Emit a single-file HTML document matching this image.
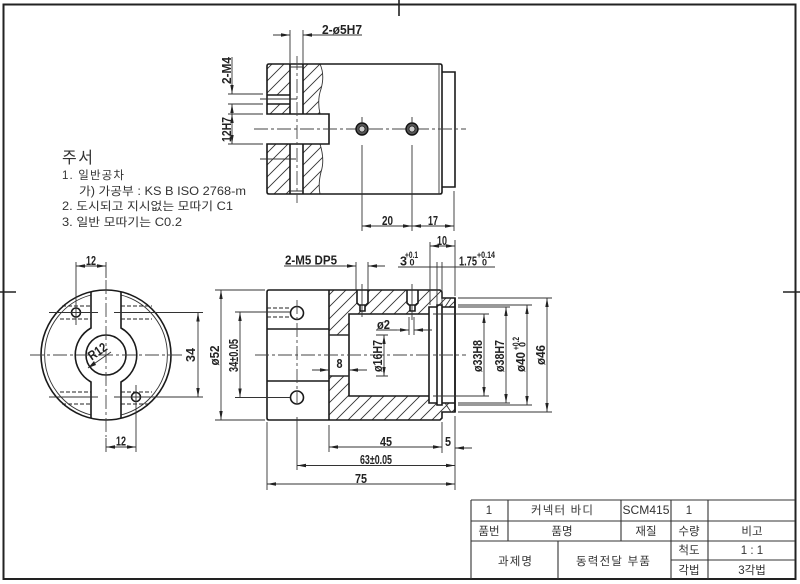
<!DOCTYPE html>
<html><head><meta charset="utf-8"><style>
html,body{margin:0;padding:0;background:#fff}
svg{display:block}
.o{fill:none;stroke:#1a1a1a;stroke-width:1.6}
.t{fill:none;stroke:#333;stroke-width:.9}
.c{fill:none;stroke:#444;stroke-width:.9;stroke-dasharray:14 3 3 3}
.h{fill:none;stroke:#222;stroke-width:1.1;stroke-dasharray:4 2}
.a{fill:none;stroke:#333;stroke-width:.9;marker-end:url(#m)}
.b{fill:none;stroke:#333;stroke-width:.9;marker-start:url(#s);marker-end:url(#m)}
.d{font:bold 13px "Liberation Sans",sans-serif;fill:#222;text-anchor:middle}
.e{font:bold 9px "Liberation Sans",sans-serif;fill:#222}
.n{font:11.5px "Liberation Sans","Noto Sans CJK KR",sans-serif;fill:#333}
.k{font:11.5px "Liberation Sans","Noto Sans CJK KR",sans-serif;fill:#333;text-anchor:middle}
</style></head><body>
<svg width="800" height="584" viewBox="0 0 800 584" xmlns="http://www.w3.org/2000/svg">
<defs>
<marker id="m" markerUnits="userSpaceOnUse" markerWidth="10" markerHeight="6" refX="9" refY="2.5" orient="auto"><path d="M0 .8L9 2.5L0 4.2Z" fill="#222"/></marker>
<marker id="s" markerUnits="userSpaceOnUse" markerWidth="10" markerHeight="6" refX="0" refY="2.5" orient="auto"><path d="M9 .8L0 2.5L9 4.2Z" fill="#222"/></marker>
<pattern id="p" patternUnits="userSpaceOnUse" width="12" height="12"><path d="M-1 13L13 -1M-1 1L1 -1M11 13L13 11" stroke="#333" stroke-width=".9"/></pattern>
</defs>
<rect width="800" height="584" fill="#fff"/>
<!-- frame -->
<rect x="3.500" y="4.500" width="792" height="574.500" fill="none" stroke="#222" stroke-width="2"/>
<path d="M399 0V16M0 292H16M783 292H800" stroke="#222" stroke-width="1.600" fill="none"/>

<!-- top view -->
<path d="M267 66Q267 64 269 64H290V114H267ZM267 144H290V194H269Q267 194 267 192ZM303 64H320Q325 75 321 89Q317 100 320 114H303ZM303 144H320Q325 160 321 172Q318 184 320 194H303Z" fill="url(#p)"/>
<rect x="267" y="95" width="23" height="9" fill="#fff"/>
<path class="t" d="M320 64Q325 75 321 89Q317 100 320 114M320 144Q325 160 321 172Q318 184 320 194"/>
<path class="o" d="M290 64H269Q267 64 267 66V114H329V144H267V192Q267 194 269 194H440Q442 194 442 192V66Q442 64 440 64H290"/>
<path class="o" d="M442 72H455V187H442"/>
<path class="t" d="M439 64V194"/>
<path class="o" d="M290 64V114M303 64V114M290 144V194M303 144V194M267 95H290M267 104H290"/>
<path class="t" d="M290 67H303M290 191H303"/>
<path class="c" d="M297 56V203"/>
<path class="c" d="M254 129H466"/>
<path class="t" d="M260 99H297M260 159H296"/>
<circle cx="362" cy="129" r="6" fill="#555" stroke="#111" stroke-width="1.400"/><circle cx="362" cy="129" r="3" fill="#ccc" stroke="#222" stroke-width=".8"/>
<circle cx="412" cy="129" r="6" fill="#555" stroke="#111" stroke-width="1.400"/><circle cx="412" cy="129" r="3" fill="#ccc" stroke="#222" stroke-width=".8"/>
<path class="t" d="M362 117V123M412 117V123M362 145V231M412 145V231M454 191V231"/>
<path class="t" d="M290 30V64M303 30V64"/>
<path class="a" d="M273 35H290"/><path class="t" d="M320 35H362"/><path class="a" d="M322 35H303"/>
<text class="d" x="342" y="34" textLength="40" lengthAdjust="spacingAndGlyphs">2-ø5H7</text>
<path class="t" d="M228 94H263M228 104H263M228 114H263M228 144H263"/>
<path class="t" d="M232 57V82"/><path class="a" d="M232 82V94"/><path class="a" d="M232 116V104"/>
<text class="d" transform="translate(231 70.500) rotate(-90)" textLength="27" lengthAdjust="spacingAndGlyphs">2-M4</text>
<path class="b" d="M232 114V144"/>
<text class="d" transform="translate(231 129.500) rotate(-90)" textLength="25" lengthAdjust="spacingAndGlyphs">12H7</text>
<path class="b" d="M362 226H412"/><path class="b" d="M412 226H454"/>
<text class="d" x="387.500" y="225" textLength="11" lengthAdjust="spacingAndGlyphs">20</text>
<text class="d" x="433" y="225" textLength="10" lengthAdjust="spacingAndGlyphs">17</text>

<!-- notes -->
<text x="62" y="163" style="font:16px 'Liberation Sans','Noto Sans CJK KR',sans-serif;fill:#333" textLength="31">주서</text>
<text class="n" x="62" y="179" textLength="62">1. 일반공차</text>
<text class="n" x="79" y="195" textLength="167" lengthAdjust="spacingAndGlyphs">가) 가공부 : KS B ISO 2768-m</text>
<text class="n" x="62" y="210" textLength="171" lengthAdjust="spacingAndGlyphs">2. 도시되고 지시없는 모따기 C1</text>
<text class="n" x="62" y="226" textLength="120" lengthAdjust="spacingAndGlyphs">3. 일반 모따기는 C0.2</text>

<!-- front circular view -->
<circle class="o" cx="106" cy="355" r="65"/>
<path class="t" d="M91 295A62 62 0 0 0 91 415M121 295A62 62 0 0 1 121 415" stroke-width="1.2"/>
<path class="o" d="M91 292V328A31 31 0 0 0 91 382V418M121 292V328A31 31 0 0 1 121 382V418"/>
<circle class="o" cx="106" cy="355" r="20"/>
<circle class="o" cx="76" cy="312.500" r="4.500" fill="#fff"/>
<circle class="o" cx="136" cy="397" r="4.500" fill="#fff"/>
<path class="h" d="M62 306H91M60 319H91M121 306H152M121 319H152M60 392H91M62 404H91M121 392H152M121 404H150"/>
<path class="c" d="M106 280V437M30 355H183"/>
<path class="t" d="M49 312.500H98M114 312.500H203M49 397H98M114 397H203"/>
<path class="t" d="M76 262V325M136 385V452M106 262V278M106 438V452"/>
<path class="b" d="M76 266H106"/><path class="b" d="M106 447H136"/>
<text class="d" x="91" y="265" textLength="10" lengthAdjust="spacingAndGlyphs">12</text>
<text class="d" x="121" y="445.500" textLength="10" lengthAdjust="spacingAndGlyphs">12</text>
<path class="b" d="M198 312.500V397"/>
<text class="d" transform="translate(195 355) rotate(-90)" textLength="14" lengthAdjust="spacingAndGlyphs">34</text>
<path class="t" d="M111 352L88 368"/><path d="M88 368L94 361L96 365Z" fill="#222"/>
<text class="d" transform="translate(100 355) rotate(-35)" textLength="20" lengthAdjust="spacingAndGlyphs">R12</text>

<!-- section view -->
<path d="M329 290H440L442 293V298H455V307H429V314H349V335H329ZM329 376H349V396H429V403H455V412H442V418L440 420H329Z" fill="url(#p)"/>
<rect x="357" y="290" width="11" height="13" fill="#fff"/><rect x="360" y="303" width="5" height="8" fill="#fff"/>
<rect x="407" y="290" width="11" height="13" fill="#fff"/><rect x="410" y="303" width="5" height="8" fill="#fff"/>
<path class="o" d="M269 290H440L442 292V298H455V412H442V418L440 420H269Q267 420 267 418V292Q267 290 269 290Z"/>
<path class="o" d="M329 290V335H349V314H429V307H437V305H442V307H455M329 420V376H349V396H429V403H437V405H442V403H455M349 314V396M429 307V403M437 305V405M442 305V405M329 335V376"/>
<path class="o" d="M267 329H329M267 381H329M455 298V412"/>
<path class="t" d="M329 335H349M329 376H349M451 298L445 307M451 412L445 403"/>
<path class="o" d="M357 290V303L359 305H366L368 303V290M407 290V303L409 305H416L418 303V290" stroke-width="1.400"/>
<path class="o" d="M360 305V311H365V305M410 305V311H415V305" stroke-width="1"/>
<circle class="o" cx="297" cy="313" r="6.500" fill="#fff"/>
<circle class="o" cx="297" cy="397.500" r="6.500" fill="#fff"/>
<path class="h" d="M267 308H291M267 317H291"/>
<path class="c" d="M255 355H466"/>
<path class="c" d="M297 300V403"/>
<path class="t" d="M297 417V470M362 284V317M412 284V320"/>
<path class="t" d="M235 312H290M235 397.500H290M215 290H265M215 420H265"/>
<path class="b" d="M221 290V420"/>
<text class="d" transform="translate(219 355.500) rotate(-90)" textLength="20" lengthAdjust="spacingAndGlyphs">ø52</text>
<path class="b" d="M240 312V397.500"/>
<text class="d" transform="translate(238 355.500) rotate(-90)" textLength="33" lengthAdjust="spacingAndGlyphs">34±0.05</text>
<!-- 2-M5 -->
<text class="d" x="311" y="264.500" textLength="52" lengthAdjust="spacingAndGlyphs">2-M5 DP5</text>
<path class="t" d="M284 266H345"/><path class="a" d="M345 266H356"/><path class="a" d="M385 266H368"/>
<path class="t" d="M356 262V290M368 262V290"/>
<!-- 8 -->
<path class="a" d="M312 370H329"/><path class="a" d="M367 370H349"/>
<text class="d" x="339.500" y="368" textLength="6" lengthAdjust="spacingAndGlyphs">8</text>
<!-- phi 2 -->
<text class="d" x="383.500" y="329" textLength="13" lengthAdjust="spacingAndGlyphs">ø2</text>
<path class="t" d="M376 330H397"/><path class="a" d="M397 330H409"/><path class="a" d="M432 330H414"/>
<path class="t" d="M409 317V335M414 317V335"/>
<!-- phi16 -->
<path class="b" d="M384 335V376"/><path class="t" d="M376 335H388M376 376H388"/>
<text class="d" transform="translate(382 356) rotate(-90)" textLength="32" lengthAdjust="spacingAndGlyphs">ø16H7</text>
<!-- top right dims -->
<path class="t" d="M430 242V305M437 262V305M442 262V305M455 240V296"/>
<path class="b" d="M430 246H455"/>
<text class="d" x="442" y="245" textLength="10" lengthAdjust="spacingAndGlyphs">10</text>
<path class="t" d="M398 267H495"/>
<text x="400" y="265.500" textLength="7" lengthAdjust="spacingAndGlyphs" style="font:bold 13px 'Liberation Sans',sans-serif;fill:#222">3</text>
<text class="e" x="405" y="258" textLength="13" lengthAdjust="spacingAndGlyphs">+0.1</text>
<text class="e" x="409.500" y="265.500">0</text>
<text x="459" y="265.500" textLength="18" lengthAdjust="spacingAndGlyphs" style="font:bold 13px 'Liberation Sans',sans-serif;fill:#222">1.75</text>
<text class="e" x="477" y="258" textLength="18" lengthAdjust="spacingAndGlyphs">+0.14</text>
<text class="e" x="482" y="265.500">0</text>
<!-- right dims -->
<path class="t" d="M433 314H489M433 396H489M458 307H510M458 403H510M458 305H532M458 405H532M458 298H552M458 412H552"/>
<path class="b" d="M484 314V396"/><path class="b" d="M506 307V403"/><path class="b" d="M527 305V405"/><path class="b" d="M547 298V412"/>
<text class="d" transform="translate(482 356) rotate(-90)" textLength="32" lengthAdjust="spacingAndGlyphs">ø33H8</text>
<text class="d" transform="translate(504 356) rotate(-90)" textLength="32" lengthAdjust="spacingAndGlyphs">ø38H7</text>
<text class="d" transform="translate(525 362) rotate(-90)" textLength="20" lengthAdjust="spacingAndGlyphs">ø40</text>
<text class="e" transform="translate(519 350) rotate(-90)" textLength="13" lengthAdjust="spacingAndGlyphs">+0.2</text>
<text class="e" transform="translate(525.500 347) rotate(-90)">0</text>
<text class="d" transform="translate(545 355) rotate(-90)" textLength="20" lengthAdjust="spacingAndGlyphs">ø46</text>
<!-- bottom dims -->
<path class="t" d="M329 425V452M267 422V490M442 422V453M455 416V490"/>
<path class="b" d="M329 447H442"/><path class="a" d="M472 448H455"/>
<path class="b" d="M297 465.500H455"/><path class="b" d="M267 484H455"/>
<text class="d" x="386" y="446" textLength="12" lengthAdjust="spacingAndGlyphs">45</text>
<text class="d" x="448" y="446" textLength="6" lengthAdjust="spacingAndGlyphs">5</text>
<text class="d" x="376" y="464" textLength="32" lengthAdjust="spacingAndGlyphs">63±0.05</text>
<text class="d" x="361" y="483" textLength="12" lengthAdjust="spacingAndGlyphs">75</text>

<!-- title block -->
<path d="M471 500H795M471 521H795M471 541H795M671 560H795M471 500V579M508 500V541M621 500V541M671 500V579M708 500V579M558 541V579" fill="none" stroke="#333" stroke-width="1.100"/>
<text class="k" x="489" y="514">1</text>
<text class="k" x="562" y="514" textLength="62">커넥터 바디</text>
<text class="k" x="646" y="514" textLength="47" lengthAdjust="spacingAndGlyphs">SCM415</text>
<text class="k" x="689" y="514">1</text>
<text class="k" x="489" y="535">품번</text>
<text class="k" x="562" y="535">품명</text>
<text class="k" x="646" y="535">재질</text>
<text class="k" x="689" y="535">수량</text>
<text class="k" x="752" y="535">비고</text>
<text class="k" x="515" y="565" textLength="34">과제명</text>
<text class="k" x="613" y="565" textLength="74">동력전달 부품</text>
<text class="k" x="689" y="554">척도</text>
<text class="k" x="752" y="554">1 : 1</text>
<text class="k" x="689" y="574">각법</text>
<text class="k" x="752" y="574">3각법</text>
</svg>
</body></html>
